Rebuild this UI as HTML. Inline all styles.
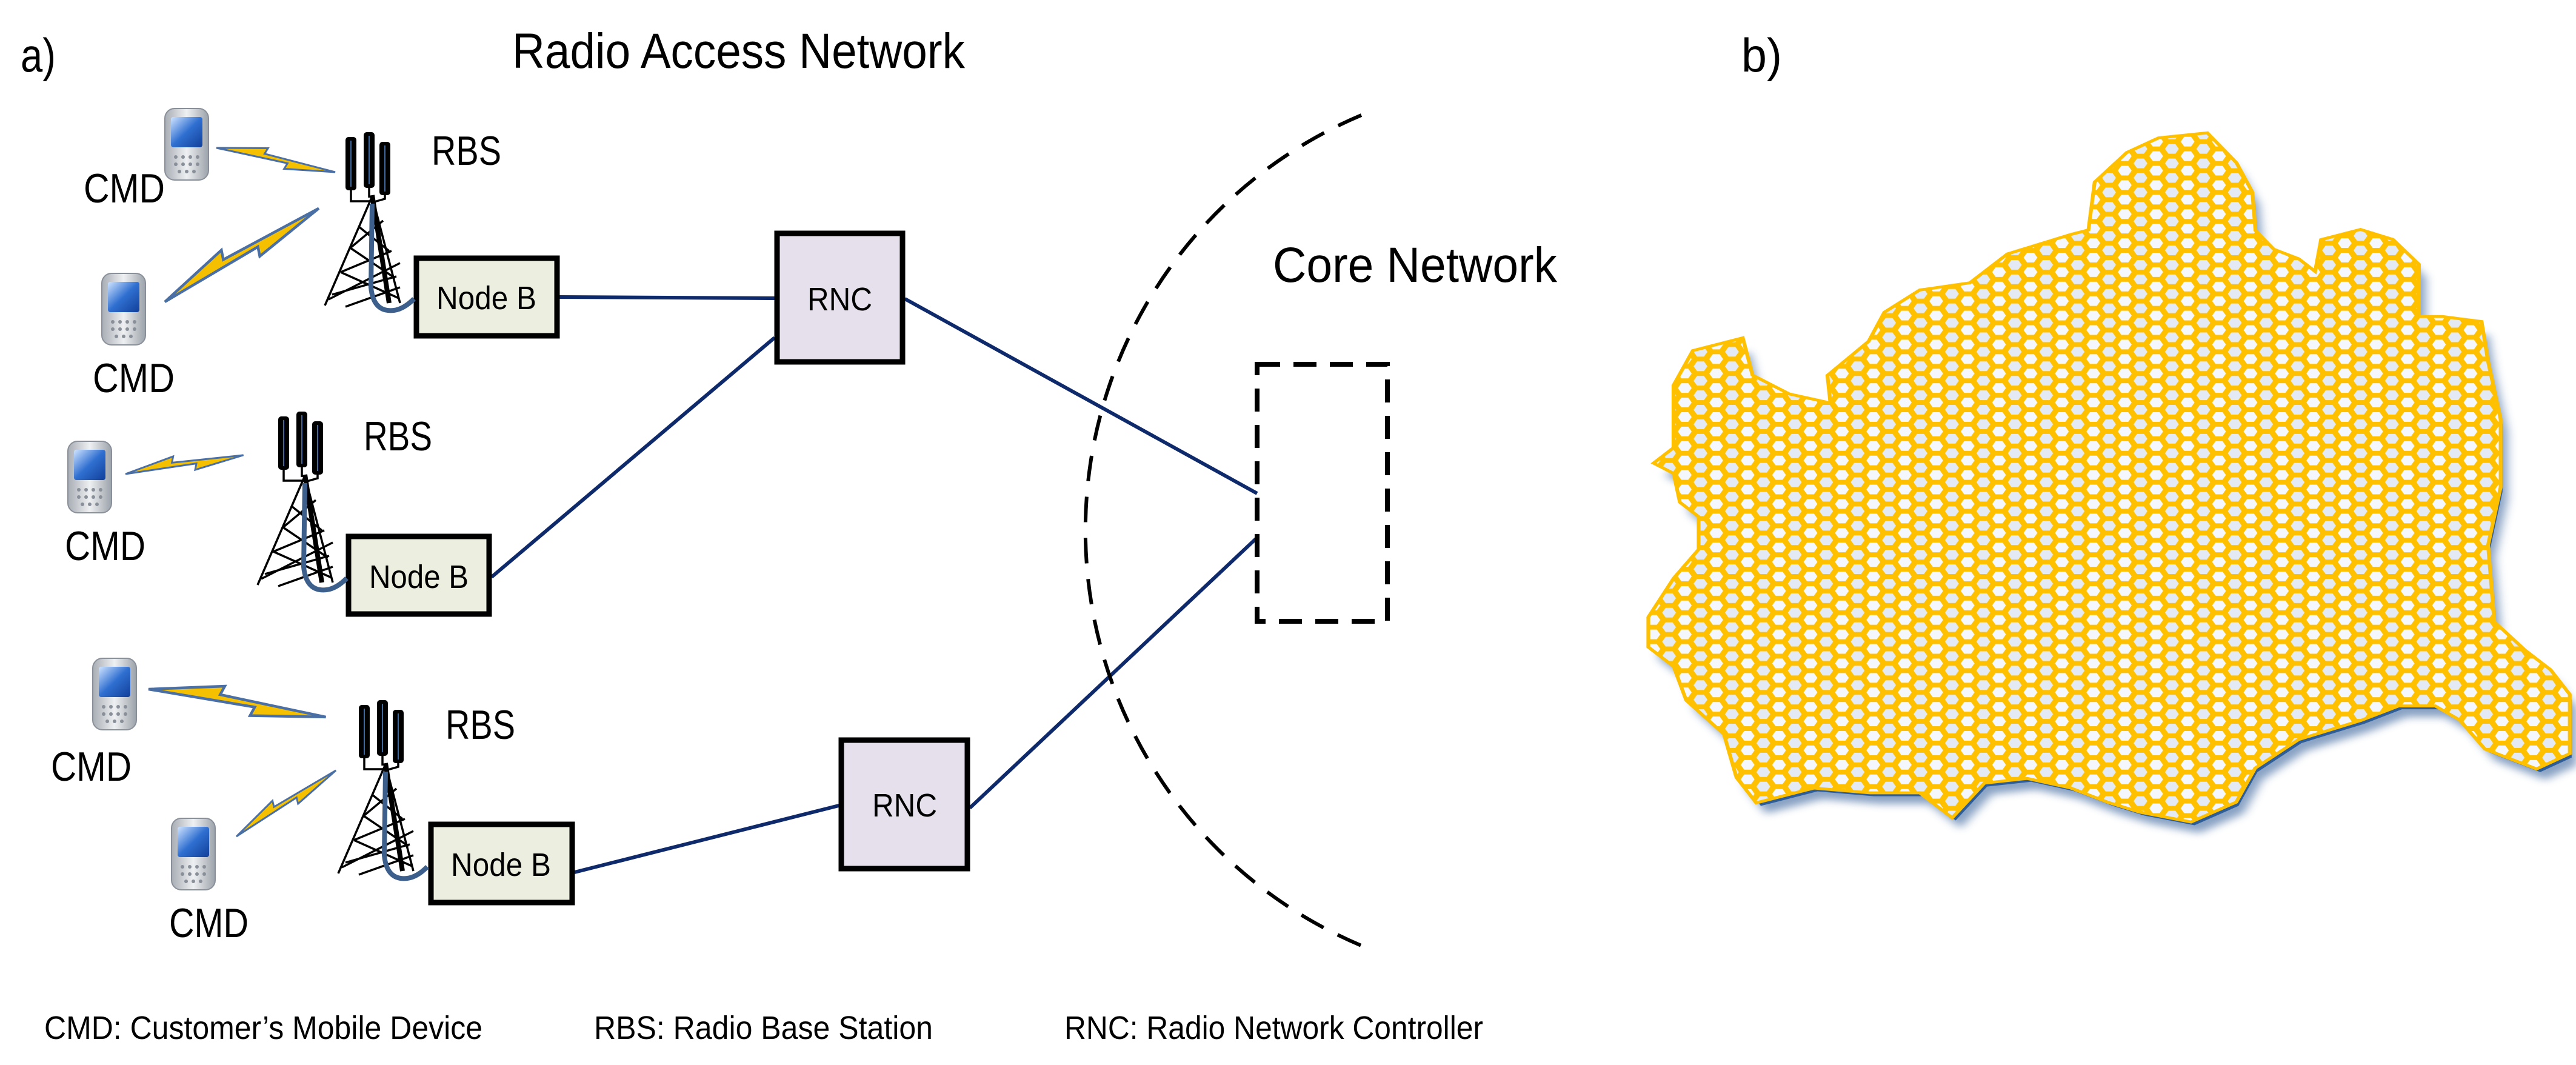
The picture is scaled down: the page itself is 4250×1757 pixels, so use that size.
<!DOCTYPE html>
<html><head><meta charset="utf-8"><style>html,body{margin:0;padding:0;background:#fff}svg{display:block}</style></head>
<body>
<svg xmlns="http://www.w3.org/2000/svg" width="4250" height="1757" viewBox="0 0 4250 1757">
<defs>
<linearGradient id="ph" x1="0" y1="0" x2="1" y2="0"><stop offset="0" stop-color="#a8adb4"/><stop offset="0.5" stop-color="#eef0f2"/><stop offset="1" stop-color="#9ca2aa"/></linearGradient>
<linearGradient id="sc" x1="0" y1="0" x2="1" y2="1"><stop offset="0" stop-color="#cfe4ff"/><stop offset="0.5" stop-color="#2f6fd0"/><stop offset="1" stop-color="#123f9a"/></linearGradient>
<g id="phone">
<rect x="0" y="0" width="72" height="118" rx="16" fill="url(#ph)" stroke="#8a9099" stroke-width="2"/>
<rect x="10" y="14" width="52" height="50" rx="4" fill="url(#sc)"/>
<g fill="#8a9099"><circle cx="18" cy="80" r="3"/><circle cx="30" cy="80" r="3"/><circle cx="42" cy="80" r="3"/><circle cx="54" cy="80" r="3"/><circle cx="18" cy="92" r="3"/><circle cx="30" cy="92" r="3"/><circle cx="42" cy="92" r="3"/><circle cx="54" cy="92" r="3"/><circle cx="24" cy="104" r="3"/><circle cx="36" cy="104" r="3"/><circle cx="48" cy="104" r="3"/></g>
</g>
<g id="tower">
<rect x="0" y="2" width="18" height="88" rx="5" fill="#000"/>
<rect x="30" y="-6" width="18" height="92" rx="5" fill="#000"/>
<rect x="56" y="10" width="18" height="88" rx="5" fill="#000"/>
<g stroke="#3c6aa0" stroke-width="2"><line x1="9" y1="8" x2="9" y2="84"/><line x1="39" y1="0" x2="39" y2="80"/><line x1="65" y1="16" x2="65" y2="92"/></g>
<g stroke="#000" stroke-width="3.5" fill="none">
<polyline points="9,88 9,108 46,108"/><polyline points="39,84 39,102"/><polyline points="65,96 65,104 44,110"/>
<line x1="44" y1="100" x2="-34" y2="280"/><line x1="44" y1="100" x2="90" y2="276"/>
<line x1="-28" y1="270" x2="90" y2="210"/><line x1="0" y1="282" x2="90" y2="250"/>
<line x1="22" y1="150" x2="72" y2="190"/><line x1="8" y1="185" x2="82" y2="235"/><line x1="-8" y1="225" x2="88" y2="268"/>
<line x1="62" y1="140" x2="8" y2="185"/><line x1="76" y1="190" x2="-8" y2="225"/><line x1="84" y1="232" x2="-22" y2="262"/>
</g>
<line x1="44" y1="98" x2="72" y2="276" stroke="#000" stroke-width="8"/>
<path d="M44 112 L42 250 Q46 292 80 288 Q96 286 113 269" fill="none" stroke="#3c5f8c" stroke-width="8"/>
</g>
<path id="bolt" d="M0,0 L0.42,-0.07 L0.4,-0.02 L1,0.03 L0.58,0.075 L0.6,0.025 Z"/>
<pattern id="hex" patternUnits="userSpaceOnUse" width="50" height="30">
<rect width="50" height="30" fill="#ffc000"/>
<g fill="#e4eaf3">
<polygon points="-11,0 -5.5,-10 5.5,-10 11,0 5.5,10 -5.5,10"/>
<polygon points="39,0 44.5,-10 55.5,-10 61,0 55.5,10 44.5,10"/>
<polygon points="-11,30 -5.5,20 5.5,20 11,30 5.5,40 -5.5,40"/>
<polygon points="39,30 44.5,20 55.5,20 61,30 55.5,40 44.5,40"/>
<polygon points="14,15 19.5,5 30.5,5 36,15 30.5,25 19.5,25" fill="#f4f7fb"/>
</g>
</pattern>
<filter id="bl"><feGaussianBlur stdDeviation="8"/></filter>
<polygon id="map" points="140,540 215,515 230,590 290,630 360,650 355,590 420,520 445,460 500,415 580,400 640,340 690,320 740,300 770,290 780,190 830,130 880,100 955,90 1000,150 1025,210 1030,290 1060,330 1100,350 1130,380 1140,310 1200,290 1250,310 1290,360 1290,470 1330,470 1390,480 1400,560 1420,680 1420,820 1400,940 1410,1100 1460,1160 1500,1200 1530,1250 1530,1370 1480,1400 1400,1360 1360,1300 1320,1270 1260,1270 1200,1300 1100,1340 1030,1400 1000,1470 930,1510 850,1490 800,1470 740,1440 670,1420 600,1430 550,1500 500,1450 420,1450 330,1440 240,1470 210,1420 190,1330 130,1260 110,1190 70,1150 70,1090 110,1010 150,950 150,880 120,850 110,790 80,770 110,740 110,610"/>
</defs>

<g font-family="Liberation Sans, sans-serif" fill="#000">
<text x="34" y="118" font-size="78" textLength="58" lengthAdjust="spacingAndGlyphs">a)</text>
<text x="845" y="112" font-size="82" textLength="747" lengthAdjust="spacingAndGlyphs">Radio Access Network</text>
<text x="2100" y="465" font-size="82" textLength="469" lengthAdjust="spacingAndGlyphs">Core Network</text>
<text x="2873" y="118" font-size="78" textLength="67" lengthAdjust="spacingAndGlyphs">b)</text>
<g font-size="68">
<text x="712" y="272" textLength="115" lengthAdjust="spacingAndGlyphs">RBS</text>
<text x="600" y="743" textLength="113" lengthAdjust="spacingAndGlyphs">RBS</text>
<text x="735" y="1219" textLength="115" lengthAdjust="spacingAndGlyphs">RBS</text>
<text x="138" y="334" textLength="134" lengthAdjust="spacingAndGlyphs">CMD</text>
<text x="153" y="647" textLength="135" lengthAdjust="spacingAndGlyphs">CMD</text>
<text x="107" y="924" textLength="133" lengthAdjust="spacingAndGlyphs">CMD</text>
<text x="84" y="1288" textLength="133" lengthAdjust="spacingAndGlyphs">CMD</text>
<text x="279" y="1546" textLength="131" lengthAdjust="spacingAndGlyphs">CMD</text>
</g>
<g font-size="54">
<text x="73" y="1714" textLength="723" lengthAdjust="spacingAndGlyphs">CMD: Customer’s Mobile Device</text>
<text x="980" y="1714" textLength="559" lengthAdjust="spacingAndGlyphs">RBS: Radio Base Station</text>
<text x="1756" y="1714" textLength="691" lengthAdjust="spacingAndGlyphs">RNC: Radio Network Controller</text>
</g>
</g>

<g stroke="#0f2a6b" stroke-width="6" fill="none">
<line x1="923" y1="490" x2="1278" y2="492"/>
<line x1="811" y1="952" x2="1278" y2="557"/>
<line x1="1493" y1="493" x2="2074" y2="814"/>
<line x1="948" y1="1439" x2="1384" y2="1329"/>
<line x1="1600" y1="1333" x2="2074" y2="887"/>
</g>
<path d="M2246,190 A743,743 0 0 0 2246,1560" fill="none" stroke="#000" stroke-width="6" stroke-dasharray="42,26"/>
<rect x="2074" y="601" width="215" height="424" fill="none" stroke="#000" stroke-width="8" stroke-dasharray="38,22"/>

<g stroke="#000" stroke-width="9">
<rect x="687" y="426" width="232" height="128" fill="#ecefdf"/>
<rect x="575" y="885" width="232" height="128" fill="#ecefdf"/>
<rect x="711" y="1360" width="233" height="129" fill="#ecefdf"/>
<rect x="1282" y="385" width="207" height="212" fill="#e6e0ec"/>
<rect x="1388" y="1221" width="208" height="212" fill="#e6e0ec"/>
</g>
<g font-family="Liberation Sans, sans-serif" font-size="54" fill="#000">
<text x="720" y="510" textLength="165" lengthAdjust="spacingAndGlyphs">Node B</text>
<text x="609" y="970" textLength="164" lengthAdjust="spacingAndGlyphs">Node B</text>
<text x="744" y="1445" textLength="165" lengthAdjust="spacingAndGlyphs">Node B</text>
<text x="1332" y="512" textLength="107" lengthAdjust="spacingAndGlyphs">RNC</text>
<text x="1439" y="1347" textLength="107" lengthAdjust="spacingAndGlyphs">RNC</text>
</g>

<use href="#tower" transform="translate(570,224)"/>
<use href="#tower" transform="translate(459,685)"/>
<use href="#tower" transform="translate(592,1161)"/>

<use href="#phone" transform="translate(272,179)"/>
<use href="#phone" transform="translate(168,451)"/>
<use href="#phone" transform="translate(112,728)"/>
<use href="#phone" transform="translate(153,1086)"/>
<use href="#phone" transform="translate(283,1350)"/>

<g fill="#f5c000" stroke="#4a6fa5" stroke-width="0.015">
<use href="#bolt" transform="translate(357,244) rotate(9.8) scale(200)"/>
<use href="#bolt" transform="translate(272,498) rotate(-33) scale(297)"/>
<use href="#bolt" transform="translate(207,782) rotate(-10.8) scale(197)"/>
<use href="#bolt" transform="translate(245,1137) rotate(7.2) scale(296)"/>
<use href="#bolt" transform="translate(390,1380) rotate(-35.3) scale(197)"/>
</g>

<g transform="translate(2650,150) scale(1.037,0.797)">
<use href="#map" transform="translate(14,26)" fill="#3a659c" opacity="0.6" filter="url(#bl)"/>
<use href="#map" transform="translate(6,10)" fill="#2f5d96"/>
<use href="#map" fill="#dfe6f0" stroke="#ffc000" stroke-width="12"/>
</g>
<polygon transform="translate(2650,150) scale(1.037,0.797)" points="140,540 215,515 230,590 290,630 360,650 355,590 420,520 445,460 500,415 580,400 640,340 690,320 740,300 770,290 780,190 830,130 880,100 955,90 1000,150 1025,210 1030,290 1060,330 1100,350 1130,380 1140,310 1200,290 1250,310 1290,360 1290,470 1330,470 1390,480 1400,560 1420,680 1420,820 1400,940 1410,1100 1460,1160 1500,1200 1530,1250 1530,1370 1480,1400 1400,1360 1360,1300 1320,1270 1260,1270 1200,1300 1100,1340 1030,1400 1000,1470 930,1510 850,1490 800,1470 740,1440 670,1420 600,1430 550,1500 500,1450 420,1450 330,1440 240,1470 210,1420 190,1330 130,1260 110,1190 70,1150 70,1090 110,1010 150,950 150,880 120,850 110,790 80,770 110,740 110,610" fill="url(#hex)"/>
</svg>
</body></html>
